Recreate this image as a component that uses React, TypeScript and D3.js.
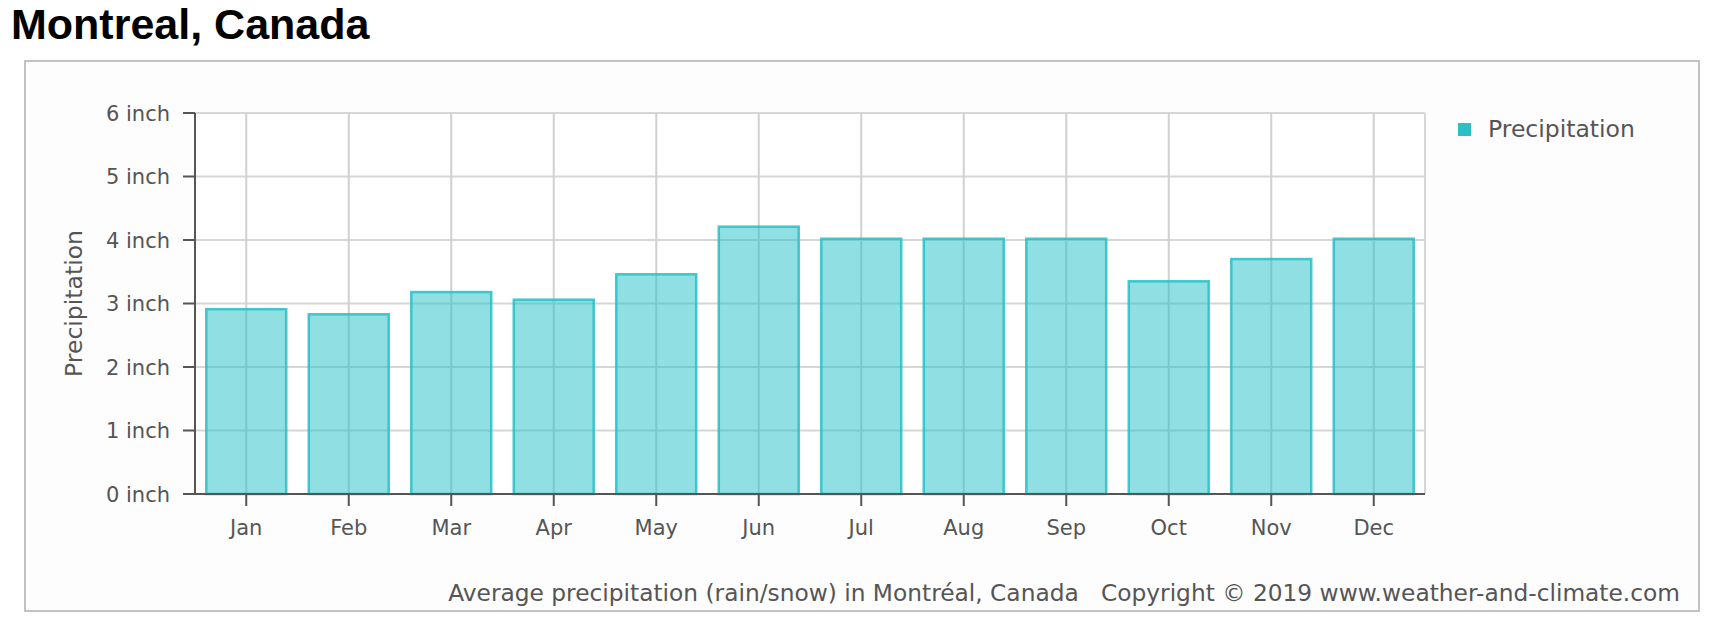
import React from 'react';
import * as d3 from 'd3';

const months = ['Jan', 'Feb', 'Mar', 'Apr', 'May', 'Jun', 'Jul', 'Aug', 'Sep', 'Oct', 'Nov', 'Dec'];
const precipitation = [2.91, 2.83, 3.18, 3.06, 3.46, 4.21, 4.02, 4.02, 4.02, 3.35, 3.70, 4.02];
const yTicks = [0, 1, 2, 3, 4, 5, 6];

const W = 1710;
const H = 618;
const plot = { left: 195, right: 1425, top: 113, bottom: 494 };
const font = '"DejaVu Sans", Verdana, sans-serif';

const App = () => {
  const x = d3.scaleBand<string>()
    .domain(months)
    .range([plot.left, plot.right])
    .paddingInner(0.22)
    .paddingOuter(0.11);

  const y = d3.scaleLinear()
    .domain([0, 6])
    .range([plot.bottom, plot.top]);

  const cx = (m: string) => (x(m) ?? 0) + x.bandwidth() / 2;

  return (
    <svg width={W} height={H} style={{ position: 'absolute', left: 0, top: 0, background: '#fff' }}>
      <text x={11} y={39} fontFamily='"Liberation Sans", Arial, sans-serif' fontWeight="bold" fontSize={43} fill="#000">
        Montreal, Canada
      </text>

      {/* outer frame */}
      <rect x={25} y={61} width={1674} height={550} fill="#fdfdfd" stroke="#c2c2c2" strokeWidth={2} />
      <rect x={plot.left} y={plot.top} width={plot.right - plot.left} height={plot.bottom - plot.top} fill="#fff" />

      {/* grid */}
      {yTicks.map(t => (
        <line key={'h' + t} x1={plot.left} x2={plot.right} y1={y(t)} y2={y(t)} stroke="#d6d6d6" strokeWidth={2} />
      ))}
      {months.map(m => (
        <line key={'v' + m} x1={cx(m)} x2={cx(m)} y1={plot.top} y2={plot.bottom} stroke="#d0d0d0" strokeWidth={2} />
      ))}
      <line x1={plot.right} x2={plot.right} y1={plot.top} y2={plot.bottom} stroke="#d6d6d6" strokeWidth={2} />

      {/* bars */}
      {months.map((m, i) => (
        <rect
          key={'b' + m}
          x={x(m)}
          y={y(precipitation[i])}
          width={x.bandwidth()}
          height={y(0) - y(precipitation[i])}
          fill="#21bfc5"
          fillOpacity={0.5}
          stroke="#26c0c6"
          strokeOpacity={0.85}
          strokeWidth={2.5}
        />
      ))}

      {/* y axis */}
      <line x1={plot.left} x2={plot.left} y1={plot.top} y2={plot.bottom} stroke="#555" strokeWidth={2} />
      {yTicks.map(t => (
        <g key={'yt' + t}>
          <line x1={plot.left - 12} x2={plot.left} y1={y(t)} y2={y(t)} stroke="#555" strokeWidth={2} />
          <text x={plot.left - 25} y={y(t)} dy="0.36em" textAnchor="end" fontFamily={font} fontSize={21} fill="#555">
            {t} inch
          </text>
        </g>
      ))}
      <text
        transform={`translate(74, ${(plot.top + plot.bottom) / 2}) rotate(-90)`}
        textAnchor="middle"
        dy="0.36em"
        fontFamily={font}
        fontSize={23.5}
        fill="#555"
      >
        Precipitation
      </text>

      {/* x axis */}
      <line x1={plot.left - 12} x2={plot.right} y1={plot.bottom} y2={plot.bottom} stroke="#555" strokeWidth={2} />
      {months.map(m => (
        <g key={'xt' + m}>
          <line x1={cx(m)} x2={cx(m)} y1={plot.bottom} y2={plot.bottom + 12} stroke="#555" strokeWidth={2} />
          <text x={cx(m)} y={535} textAnchor="middle" fontFamily={font} fontSize={21} fill="#555">
            {m}
          </text>
        </g>
      ))}

      {/* legend */}
      <rect x={1458} y={123} width={13} height={13} fill="#2cbfc5" />
      <text x={1488} y={137} fontFamily={font} fontSize={23.5} fill="#555">
        Precipitation
      </text>

      {/* footer */}
      <text x={1680} y={601} textAnchor="end" fontFamily={font} fontSize={23.3} fill="#555">
        Average precipitation (rain/snow) in Montréal, Canada{'\u00a0\u00a0\u00a0'}Copyright © 2019 www.weather-and-climate.com
      </text>
    </svg>
  );
};

export default App;
